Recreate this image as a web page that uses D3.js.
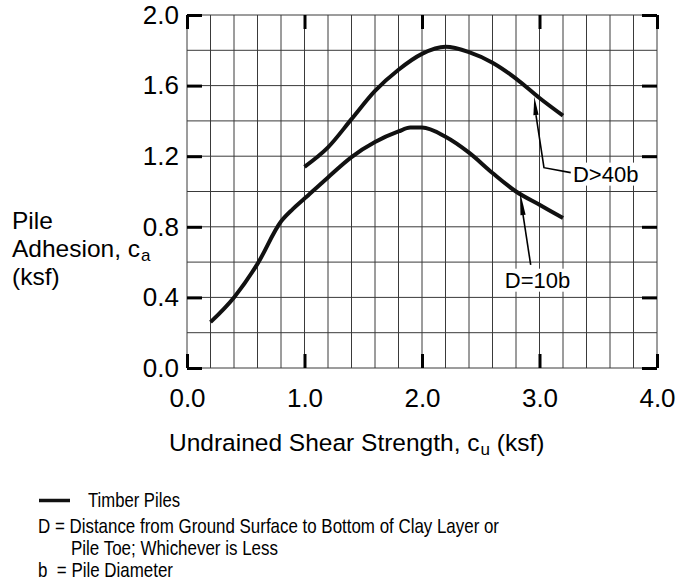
<!DOCTYPE html>
<html><head><meta charset="utf-8">
<script src="https://cdn.jsdelivr.net/npm/d3@7/dist/d3.min.js"></script>
<style>
body{margin:0;background:#fff}
svg{display:block}
text{font-family:"Liberation Sans",Arial,Helvetica,sans-serif;fill:#000}
</style>
</head><body>
<svg id="chart" width="676" height="583"></svg>
<script>
// ---- data ----
const xTicks = [0, 1, 2, 3, 4];
const xTickLabels = ["0.0", "1.0", "2.0", "3.0", "4.0"];
const yTicks = [0, 0.4, 0.8, 1.2, 1.6, 2.0];
const yTickLabels = ["0.0", "0.4", "0.8", "1.2", "1.6", "2.0"];
const gridStep = 0.2;

const upperName = "D>40b";
const upperX = [1.0, 1.2, 1.4, 1.6, 1.8, 2.0, 2.2, 2.4, 2.6, 2.8, 3.0, 3.2];
const upperY = [1.14, 1.25, 1.41, 1.57, 1.69, 1.78, 1.82, 1.79, 1.73, 1.64, 1.53, 1.43];

const lowerName = "D=10b";
const lowerX = [0.2, 0.4, 0.6, 0.8, 0.9, 1.0, 1.2, 1.4, 1.6, 1.8, 1.9, 2.0, 2.2, 2.4, 2.6, 2.8, 3.0, 3.2];
const lowerY = [0.26, 0.40, 0.59, 0.83, 0.90, 0.96, 1.08, 1.195, 1.28, 1.34, 1.362, 1.362, 1.31, 1.22, 1.105, 1.0, 0.925, 0.85];

// annotation anchors (data units): arrow tip, arrowhead base, bend points, label anchor
const upperArrow = [[2.956, 1.537], [2.97, 1.433], [3.038, 1.135], [3.266, 1.107]];
const upperLabelPos = [3.285, 1.056];
const lowerArrow = [[2.834, 0.999], [2.86, 0.867], [2.925, 0.584]];
const lowerLabelPos = [2.983, 0.455];

const xTitle = ["Undrained Shear Strength, c", "u", " (ksf)"];
const yTitleLines = [["Pile", ""], ["Adhesion, c", "a"], ["(ksf)", ""]];
const legendSeriesLabel = "Timber Piles";
const legendNotes = [
  "D = Distance from Ground Surface to Bottom of Clay Layer or",
  "Pile Toe; Whichever is Less",
  "b  = Pile Diameter"
];

// ---- layout ----
const svg = d3.select("#chart");
const x = d3.scaleLinear().domain([0, 4]).range([187, 657]);
const y = d3.scaleLinear().domain([0, 2]).range([368, 15]);

// grid
const gx = d3.range(0, 4 + 1e-9, gridStep);
const gy = d3.range(0, 2 + 1e-9, gridStep);
const grid = svg.append("g").attr("stroke", "#3a3a3a").attr("stroke-width", 1);
grid.selectAll("line.v").data(gx).join("line").attr("class", "v")
  .attr("x1", d => x(d)).attr("x2", d => x(d)).attr("y1", y(0)).attr("y2", y(2));
grid.selectAll("line.h").data(gy).join("line").attr("class", "h")
  .attr("y1", d => y(d)).attr("y2", d => y(d)).attr("x1", x(0)).attr("x2", x(4));

// axes (thick inward ticks on all four sides)
function styleAxis(g, keepText) {
  g.select(".domain").remove();
  g.selectAll(".tick line").attr("stroke", "#000").attr("stroke-width", 3);
  if (!keepText) g.selectAll(".tick text").remove();
  g.attr("font-family", null).attr("font-size", 26);
}
svg.append("g").attr("transform", `translate(0,${y(0)})`)
  .call(d3.axisBottom(x).tickValues(xTicks).tickSize(-14).tickPadding(21)
    .tickFormat((d, i) => xTickLabels[i]))
  .call(g => styleAxis(g, true));
svg.append("g").attr("transform", `translate(0,${y(2)})`)
  .call(d3.axisTop(x).tickValues(xTicks).tickSize(-14))
  .call(g => styleAxis(g, false));
svg.append("g").attr("transform", `translate(${x(0)},0)`)
  .call(d3.axisLeft(y).tickValues(yTicks).tickSize(-15).tickPadding(8)
    .tickFormat((d, i) => yTickLabels[i]))
  .call(g => styleAxis(g, true));
svg.append("g").attr("transform", `translate(${x(4)},0)`)
  .call(d3.axisRight(y).tickValues(yTicks).tickSize(-15))
  .call(g => styleAxis(g, false));

// curves
const line = d3.line().x(d => x(d[0])).y(d => y(d[1])).curve(d3.curveMonotoneX);
const upper = upperX.map((v, i) => [v, upperY[i]]);
const lower = lowerX.map((v, i) => [v, lowerY[i]]);
svg.append("g").selectAll("path").data([upper, lower]).join("path")
  .attr("d", line).attr("fill", "none").attr("stroke", "#111")
  .attr("stroke-width", 4).attr("stroke-linecap", "butt").attr("stroke-linejoin", "round");

// annotations
function arrowhead(tip, base) {
  const tx = x(tip[0]), ty = y(tip[1]), bx = x(base[0]), by = y(base[1]);
  const dx = bx - tx, dy = by - ty, len = Math.hypot(dx, dy);
  const nx = -dy / len * 2.6, ny = dx / len * 2.6;
  return `M${tx},${ty}L${bx + nx},${by + ny}L${bx - nx},${by - ny}Z`;
}
function annotate(pts, labelPos, name, anchor) {
  const lbl = svg.append("text").attr("x", x(labelPos[0])).attr("y", y(labelPos[1]))
    .attr("font-size", 22).attr("text-anchor", anchor).text(name);
  const bb = lbl.node().getBBox();
  svg.insert("rect", () => lbl.node())
    .attr("x", bb.x - 1).attr("y", bb.y + 1).attr("width", bb.width + 2).attr("height", bb.height - 2)
    .attr("fill", "#fff");
  svg.append("path").attr("d", d3.line().x(d => x(d[0])).y(d => y(d[1]))(pts.slice(1)))
    .attr("fill", "none").attr("stroke", "#000").attr("stroke-width", 1.6);
  svg.append("path").attr("d", arrowhead(pts[0], pts[1])).attr("fill", "#000");
}
annotate(upperArrow, upperLabelPos, upperName, "start");
annotate(lowerArrow, lowerLabelPos, lowerName, "middle");

// axis titles
const xt = svg.append("text").attr("x", 169).attr("y", 451).attr("font-size", 24.5);
xt.append("tspan").text(xTitle[0]);
xt.append("tspan").attr("font-size", 17).attr("dy", 4).attr("dx", 1).text(xTitle[1]);
xt.append("tspan").attr("dy", -4).text(xTitle[2]);

yTitleLines.forEach((ln, i) => {
  const t = svg.append("text").attr("x", 12).attr("y", 229 + i * 28).attr("font-size", 24.5);
  t.append("tspan").text(ln[0]);
  if (ln[1]) t.append("tspan").attr("font-size", 17).attr("dy", 4).attr("dx", 1).text(ln[1]);
});

// legend
svg.append("line").attr("x1", 39).attr("x2", 70).attr("y1", 500.5).attr("y2", 500.5)
  .attr("stroke", "#111").attr("stroke-width", 3.5);
svg.append("text").attr("x", 88).attr("y", 507).attr("font-size", 21)
  .attr("textLength", 92).attr("lengthAdjust", "spacingAndGlyphs").text(legendSeriesLabel);
const noteX = [38, 71, 38];
const noteY = [533, 555, 577];
const noteW = [461, 207, 135];
legendNotes.forEach((s, i) => {
  svg.append("text").attr("x", noteX[i]).attr("y", noteY[i]).attr("font-size", 21)
    .attr("textLength", noteW[i]).attr("lengthAdjust", "spacingAndGlyphs")
    .attr("xml:space", "preserve").style("white-space", "pre").text(s);
});
</script>
</body></html>
